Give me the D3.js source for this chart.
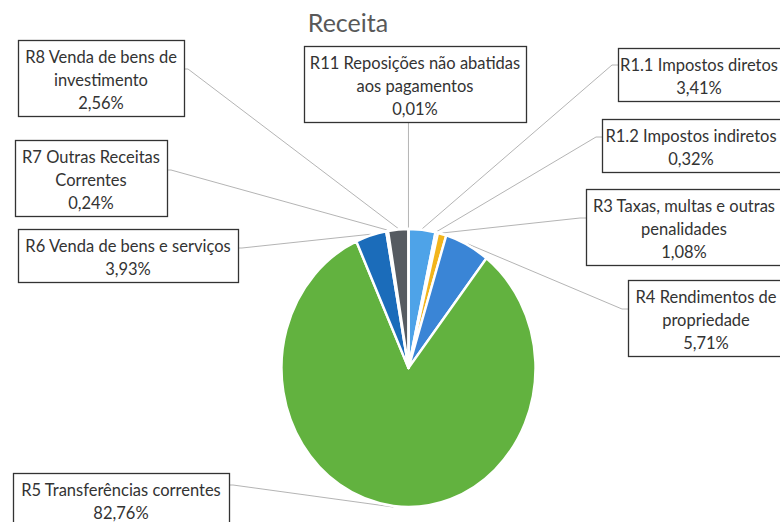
<!DOCTYPE html>
<html>
<head>
<meta charset="utf-8">
<script src="https://cdn.jsdelivr.net/npm/d3@7"></script>
<style>
  html, body { margin: 0; padding: 0; background: #fff; }
  svg { display: block; }
</style>
</head>
<body>
<svg id="chart" width="780" height="522"></svg>
<script>
// ---- data ----
const title = "Receita";
const categories = [
  "R1.1 Impostos diretos",
  "R1.2 Impostos indiretos",
  "R3 Taxas, multas e outras penalidades",
  "R4 Rendimentos de propriedade",
  "R5 Transferências correntes",
  "R6 Venda de bens e serviços",
  "R7 Outras Receitas Correntes",
  "R8 Venda de bens de investimento",
  "R11 Reposições não abatidas aos pagamentos"
];
const values = [3.41, 0.32, 1.08, 5.71, 82.76, 3.93, 0.24, 2.56, 0.01];
const labelLines = [
  ["R1.1 Impostos diretos"],
  ["R1.2 Impostos indiretos"],
  ["R3 Taxas, multas e outras", "penalidades"],
  ["R4 Rendimentos de", "propriedade"],
  ["R5 Transferências correntes"],
  ["R6 Venda de bens e serviços"],
  ["R7 Outras Receitas", "Correntes"],
  ["R8 Venda de bens de", "investimento"],
  ["R11 Reposições não abatidas", "aos pagamentos"]
];
const colors = ["#4ea3e8", "#ed7d31", "#f2b51c", "#3a85d6", "#62b23f", "#1b6cba", "#9e480e", "#565b61", "#997300"];

// ---- layout (label boxes; tx = text centre when box runs off the edge) ----
const boxes = [
  {x: 618, y: 48,  w: 172, side: "left",  ay: 65,  tx: 699},
  {x: 602, y: 119, w: 186, side: "left",  ay: 137, tx: 691},
  {x: 586, y: 189, w: 200, side: "left",  ay: 218, tx: 684},
  {x: 628, y: 280, w: 162, side: "left",  ay: 309, tx: 706},
  {x: 13,  y: 473, w: 216, side: "right", ay: 485},
  {x: 18,  y: 229, w: 220, side: "right", ay: 248},
  {x: 15,  y: 140, w: 152, side: "right", ay: 170},
  {x: 18,  y: 40,  w: 166, side: "right", ay: 69},
  {x: 304, y: 46,  w: 222, side: "bottom"}
];

const svg = d3.select("#chart");
const cx = 408.5, cy = 368, R = 127, sy = 1.094;
const lineH = 23;
const fmt = v => d3.format(".2f")(v).replace(".", ",") + "%";

const data = categories.map((c, i) => ({cat: c, value: values[i], lines: labelLines[i], color: colors[i], box: boxes[i]}));

const pie = d3.pie().value(d => d.value).sort(null);
const arcs = pie(data);
const arc = d3.arc().innerRadius(0).outerRadius(R);
const edgeArc = d3.arc().innerRadius(R + 1).outerRadius(R + 1);

// title
svg.append("text")
  .attr("x", 348).attr("y", 32)
  .attr("text-anchor", "middle")
  .attr("font-family", "Lato, 'Open Sans', sans-serif")
  .attr("font-size", 25)
  .attr("fill", "#595959")
  .text(title);

// leader lines
const leaders = svg.append("g").attr("fill", "none").attr("stroke", "#ababab").attr("stroke-width", 0.9);
arcs.forEach(a => {
  const [px, py0] = edgeArc.centroid(a);
  const p = [cx + px, cy + py0 * sy];
  const b = a.data.box;
  const nLines = a.data.lines.length + 1;
  const h = nLines * lineH + 7;
  let pts;
  if (b.side === "left") {
    pts = [p, [b.x - 6, b.ay], [b.x, b.ay]];
  } else if (b.side === "right") {
    pts = [p, [b.x + b.w + 4, b.ay], [b.x + b.w, b.ay]];
  } else {
    pts = [p, [p[0], b.y + h]];
  }
  leaders.append("path").attr("d", d3.line()(pts));
});

// pie
const g = svg.append("g").attr("transform", `translate(${cx},${cy}) scale(1,${sy})`);
g.selectAll("path.slice")
  .data(arcs)
  .join("path")
  .attr("class", "slice")
  .attr("d", arc)
  .attr("fill", d => d.data.color)
  .attr("stroke", "#fff")
  .attr("stroke-width", 2.4)
  .attr("stroke-linejoin", "round");

// label boxes
const lg = svg.append("g");
data.forEach(d => {
  const b = d.box;
  const lines = d.lines.concat([fmt(d.value)]);
  const h = lines.length * lineH + 7;
  lg.append("rect")
    .attr("x", b.x + 0.5).attr("y", b.y + 0.5)
    .attr("width", b.w).attr("height", h)
    .attr("fill", "#fff")
    .attr("stroke", "#333")
    .attr("stroke-width", 1.3);
  const t = lg.append("text")
    .attr("text-anchor", "middle")
    .attr("font-family", "Lato, 'Open Sans', sans-serif")
    .attr("font-size", 16.5)
    .attr("fill", "#333");
  const tx = b.tx !== undefined ? b.tx : b.x + b.w / 2;
  lines.forEach((ln, k) => {
    t.append("tspan")
      .attr("x", tx)
      .attr("y", b.y + 23 + k * lineH)
      .text(ln);
  });
});
</script>
</body>
</html>
